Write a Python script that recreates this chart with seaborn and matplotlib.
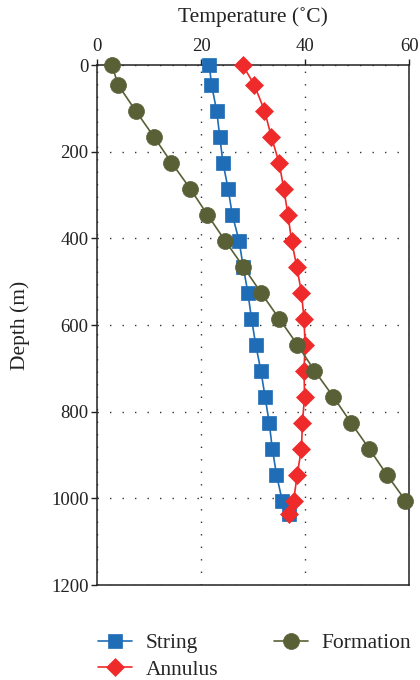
import matplotlib
matplotlib.use("Agg")
import matplotlib.pyplot as plt
import seaborn as sns
import pandas as pd

depth_sa = [0, 45, 105, 165, 225, 285, 345, 405, 465, 525, 585, 645, 705, 765, 825, 885, 945, 1005, 1035]
string_t = [21.6, 22.0, 23.0, 23.6, 24.2, 25.2, 26.0, 27.3, 28.1, 29.0, 29.7, 30.5, 31.5, 32.3, 33.1, 33.7, 34.5, 35.6, 37.0]
annulus_t = [28.0, 30.2, 32.2, 33.5, 35.0, 35.9, 36.7, 37.4, 38.4, 39.3, 39.8, 40.0, 39.8, 39.9, 39.5, 39.3, 38.5, 37.8, 37.0]
depth_f = [0, 45, 105, 165, 225, 285, 345, 405, 465, 525, 585, 645, 705, 765, 825, 885, 945, 1005]
formation_t = [2.9, 4.0, 7.4, 10.9, 14.3, 17.9, 21.2, 24.6, 28.1, 31.5, 35.0, 38.5, 41.8, 45.4, 48.8, 52.3, 55.7, 59.3]

x_ticks = [0, 20, 40, 60]
y_ticks = [0, 200, 400, 600, 800, 1000, 1200]

sns.set_theme(style="white")
plt.rcParams['font.family'] = ['Liberation Serif', 'DejaVu Serif']

fig = plt.figure(figsize=(4.2, 6.8), dpi=100)
ax = fig.add_axes([0.231, 0.1397, 0.743, 0.7647])

df_s = pd.DataFrame({"T": string_t, "D": depth_sa})
df_a = pd.DataFrame({"T": annulus_t, "D": depth_sa})
df_f = pd.DataFrame({"T": formation_t, "D": depth_f})

common = dict(sort=False, estimator=None, ax=ax, markeredgewidth=0.5, linewidth=1.2, clip_on=False)
sns.lineplot(data=df_s, x="T", y="D", color="#1f6db6", marker="s", markersize=9.5,
             markeredgecolor="#1f6db6", label="String", zorder=3, **common)
sns.lineplot(data=df_a, x="T", y="D", color="#ee2a2a", marker="D", markersize=9.3,
             markeredgecolor="#ee2a2a", label="Annulus", zorder=4, **common)
sns.lineplot(data=df_f, x="T", y="D", color="#5a6036", marker="o", markersize=11.5,
             markeredgecolor="#5a6036", label="Formation", zorder=5, **common)

ax.set_xlim(0, 60)
ax.set_ylim(1200, 0)
ax.set_xticks(x_ticks)
ax.set_yticks(y_ticks)
ax.xaxis.tick_top()
ax.xaxis.set_label_position("top")
ax.tick_params(axis="x", which="both", top=True, bottom=False, direction="out", length=4,
               width=1, color="#222222", labelsize=13.5, pad=3.5, labelcolor="#222222")
ax.tick_params(axis="y", which="both", left=True, right=False, direction="out", length=4,
               width=1, color="#222222", labelsize=13.5, pad=2, labelcolor="#222222")
ax.set_xlabel("Temperature (˚C)", fontsize=15.5, color="#222222", labelpad=11)
ax.set_ylabel("Depth (m)", fontsize=15.5, color="#222222", labelpad=15.5)

for s in ax.spines.values():
    s.set_visible(True)
    s.set_color("#222222")
    s.set_linewidth(1.1)

ax.grid(True, which="major", linestyle=(0, (1, 8)), color="#333333", linewidth=1.0)
ax.set_axisbelow(True)

ax.legend(loc="upper left", bbox_to_anchor=(0.003, -0.093), ncol=2, frameon=False,
          fontsize=15.5, handlelength=1.6, columnspacing=2.6, labelspacing=0.3,
          handletextpad=0.6, borderaxespad=0, borderpad=0)

fig.savefig("out.png", dpi=100)
